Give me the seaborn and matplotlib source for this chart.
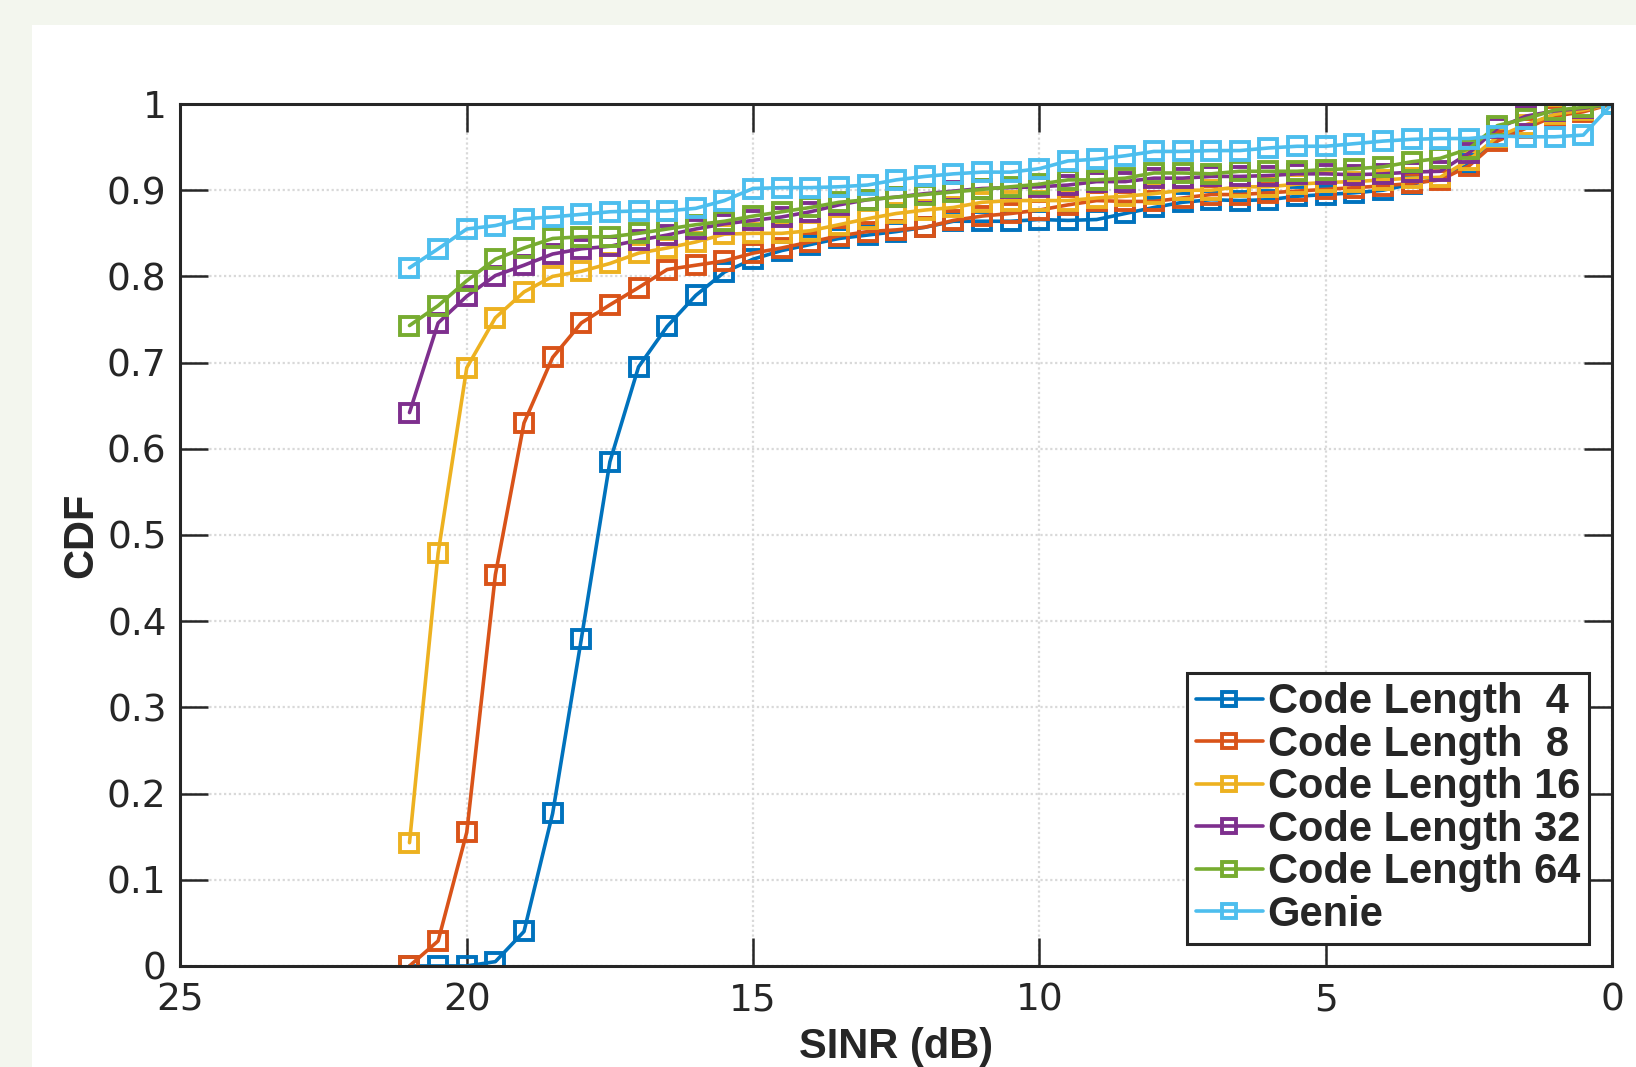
import matplotlib
matplotlib.use("Agg")
import matplotlib.pyplot as plt
from matplotlib.patches import Rectangle
import pandas as pd
import seaborn as sns

sns.set_theme(style="white")
plt.rcParams["font.family"] = ["DejaVu Sans"]

# ---------------- data ----------------
sinr_db = [21, 20.5, 20, 19.5, 19, 18.5, 18, 17.5, 17, 16.5, 16, 15.5, 15, 14.5,
           14, 13.5, 13, 12.5, 12, 11.5, 11, 10.5, 10, 9.5, 9, 8.5, 8, 7.5, 7,
           6.5, 6, 5.5, 5, 4.5, 4, 3.5, 3, 2.5, 2, 1.5, 1, 0.5, 0]

cdf_cl4 = [0.000, 0.000, 0.000, 0.005, 0.040, 0.177, 0.379, 0.585, 0.695, 0.742,
           0.778, 0.805, 0.820, 0.830, 0.837, 0.844, 0.848, 0.852, 0.857, 0.864,
           0.864, 0.864, 0.866, 0.865, 0.866, 0.873, 0.880, 0.886, 0.889, 0.888,
           0.889, 0.893, 0.895, 0.897, 0.900, 0.907, 0.914, 0.930, 0.958, 0.975,
           0.988, 0.993, 1.000]

cdf_cl8 = [0.000, 0.029, 0.155, 0.454, 0.630, 0.706, 0.746, 0.767, 0.787, 0.808,
           0.813, 0.818, 0.827, 0.833, 0.840, 0.847, 0.852, 0.854, 0.857, 0.865,
           0.870, 0.873, 0.877, 0.883, 0.888, 0.887, 0.887, 0.891, 0.895, 0.895,
           0.897, 0.899, 0.901, 0.903, 0.905, 0.908, 0.912, 0.928, 0.957, 0.972,
           0.986, 0.991, 1.000]

cdf_cl16 = [0.143, 0.479, 0.694, 0.752, 0.782, 0.800, 0.806, 0.815, 0.827, 0.833,
            0.840, 0.849, 0.850, 0.850, 0.853, 0.860, 0.867, 0.873, 0.877, 0.880,
            0.886, 0.888, 0.888, 0.888, 0.891, 0.893, 0.896, 0.900, 0.900, 0.904,
            0.904, 0.907, 0.909, 0.910, 0.912, 0.914, 0.915, 0.935, 0.962, 0.976,
            0.988, 0.993, 1.000]

cdf_cl32 = [0.642, 0.746, 0.777, 0.801, 0.813, 0.826, 0.832, 0.835, 0.842, 0.848,
            0.855, 0.861, 0.865, 0.869, 0.875, 0.883, 0.889, 0.892, 0.896, 0.899,
            0.902, 0.903, 0.904, 0.906, 0.910, 0.910, 0.914, 0.914, 0.916, 0.916,
            0.917, 0.919, 0.919, 0.918, 0.919, 0.921, 0.922, 0.943, 0.972, 0.986,
            0.992, 0.995, 1.000]

cdf_cl64 = [0.743, 0.766, 0.795, 0.820, 0.833, 0.844, 0.846, 0.846, 0.850, 0.855,
            0.860, 0.864, 0.870, 0.875, 0.880, 0.886, 0.889, 0.892, 0.895, 0.898,
            0.901, 0.904, 0.907, 0.912, 0.912, 0.914, 0.920, 0.920, 0.919, 0.922,
            0.922, 0.922, 0.924, 0.925, 0.927, 0.933, 0.937, 0.948, 0.975, 0.983,
            0.993, 0.996, 1.000]

cdf_genie = [0.810, 0.832, 0.855, 0.859, 0.867, 0.869, 0.872, 0.875, 0.876, 0.876,
             0.879, 0.888, 0.902, 0.903, 0.903, 0.904, 0.906, 0.912, 0.916, 0.919,
             0.921, 0.921, 0.925, 0.934, 0.936, 0.940, 0.945, 0.945, 0.946, 0.946,
             0.949, 0.951, 0.951, 0.954, 0.957, 0.959, 0.960, 0.960, 0.963, 0.962,
             0.962, 0.964, 1.000]

series_labels = ["Code Length  4", "Code Length  8", "Code Length 16",
                 "Code Length 32", "Code Length 64", "Genie"]
series_values = [cdf_cl4, cdf_cl8, cdf_cl16, cdf_cl32, cdf_cl64, cdf_genie]
series_colors = ["#0072BD", "#D95319", "#EDB120", "#7E2F8E", "#77AC30", "#4DBEEE"]

x_ticks = [25, 20, 15, 10, 5, 0]
y_ticks = [0, 0.1, 0.2, 0.3, 0.4, 0.5, 0.6, 0.7, 0.8, 0.9, 1]
y_tick_labels = ["0", "0.1", "0.2", "0.3", "0.4", "0.5", "0.6", "0.7", "0.8", "0.9", "1"]

# ---------------- figure ----------------
fig = plt.figure(figsize=(16.36, 10.67), dpi=100)
fig.patch.set_facecolor("#F3F6EE")
fig.patches.append(Rectangle((0.0196, 0), 1.0, 0.9766, transform=fig.transFigure,
                             facecolor="white", edgecolor="none", zorder=-10))

ax = fig.add_axes([0.1103, 0.0947, 0.875, 0.8078])
ax.set_facecolor("white")

for lab, vals, col in zip(series_labels, series_values, series_colors):
    df = pd.DataFrame({"SINR": sinr_db, "CDF": vals})
    sns.lineplot(data=df, x="SINR", y="CDF", ax=ax, color=col, linewidth=2.6,
                 marker="s", markersize=12.5, markerfacecolor="none",
                 markeredgecolor=col, markeredgewidth=2.8, label=lab,
                 legend=False)

ax.set_xlim(25, 0)
ax.set_ylim(0, 1)
ax.set_xticks(x_ticks)
ax.set_xticklabels([str(t) for t in x_ticks])
ax.set_yticks(y_ticks)
ax.set_yticklabels(y_tick_labels)

ax.grid(True, color="#d9d9d9", linestyle=(0, (1, 1.2)), linewidth=1.6)
ax.set_axisbelow(True)

for sp in ax.spines.values():
    sp.set_visible(True)
    sp.set_color("#262626")
    sp.set_linewidth(2.2)

ax.tick_params(axis="both", which="major", direction="in", length=20, width=1.8,
               top=True, right=True, bottom=True, left=True,
               labelsize=27, color="#262626", labelcolor="#262626")
ax.tick_params(axis="y", pad=10)
ax.tick_params(axis="x", pad=12)

ax.set_xlabel("SINR (dB)", fontsize=30, fontweight="bold",
              family="Liberation Sans", color="#262626", labelpad=6)
ax.set_ylabel("CDF", fontsize=30, fontweight="bold",
              family="Liberation Sans", color="#262626", labelpad=4)

handles = ax.get_lines()[:len(series_labels)]
leg = ax.legend(handles, series_labels, loc="lower right",
                bbox_to_anchor=(0.984, 0.0255), borderaxespad=0,
                prop={"family": "Liberation Sans", "weight": "bold", "size": 30},
                frameon=True, fancybox=False, framealpha=1, edgecolor="#262626",
                handlelength=1.6, handletextpad=0.12, labelspacing=0.06,
                borderpad=0.22, markerscale=0.8)
leg.get_frame().set_linewidth(2.2)

fig.savefig("out.png", dpi=100, facecolor=fig.get_facecolor())
